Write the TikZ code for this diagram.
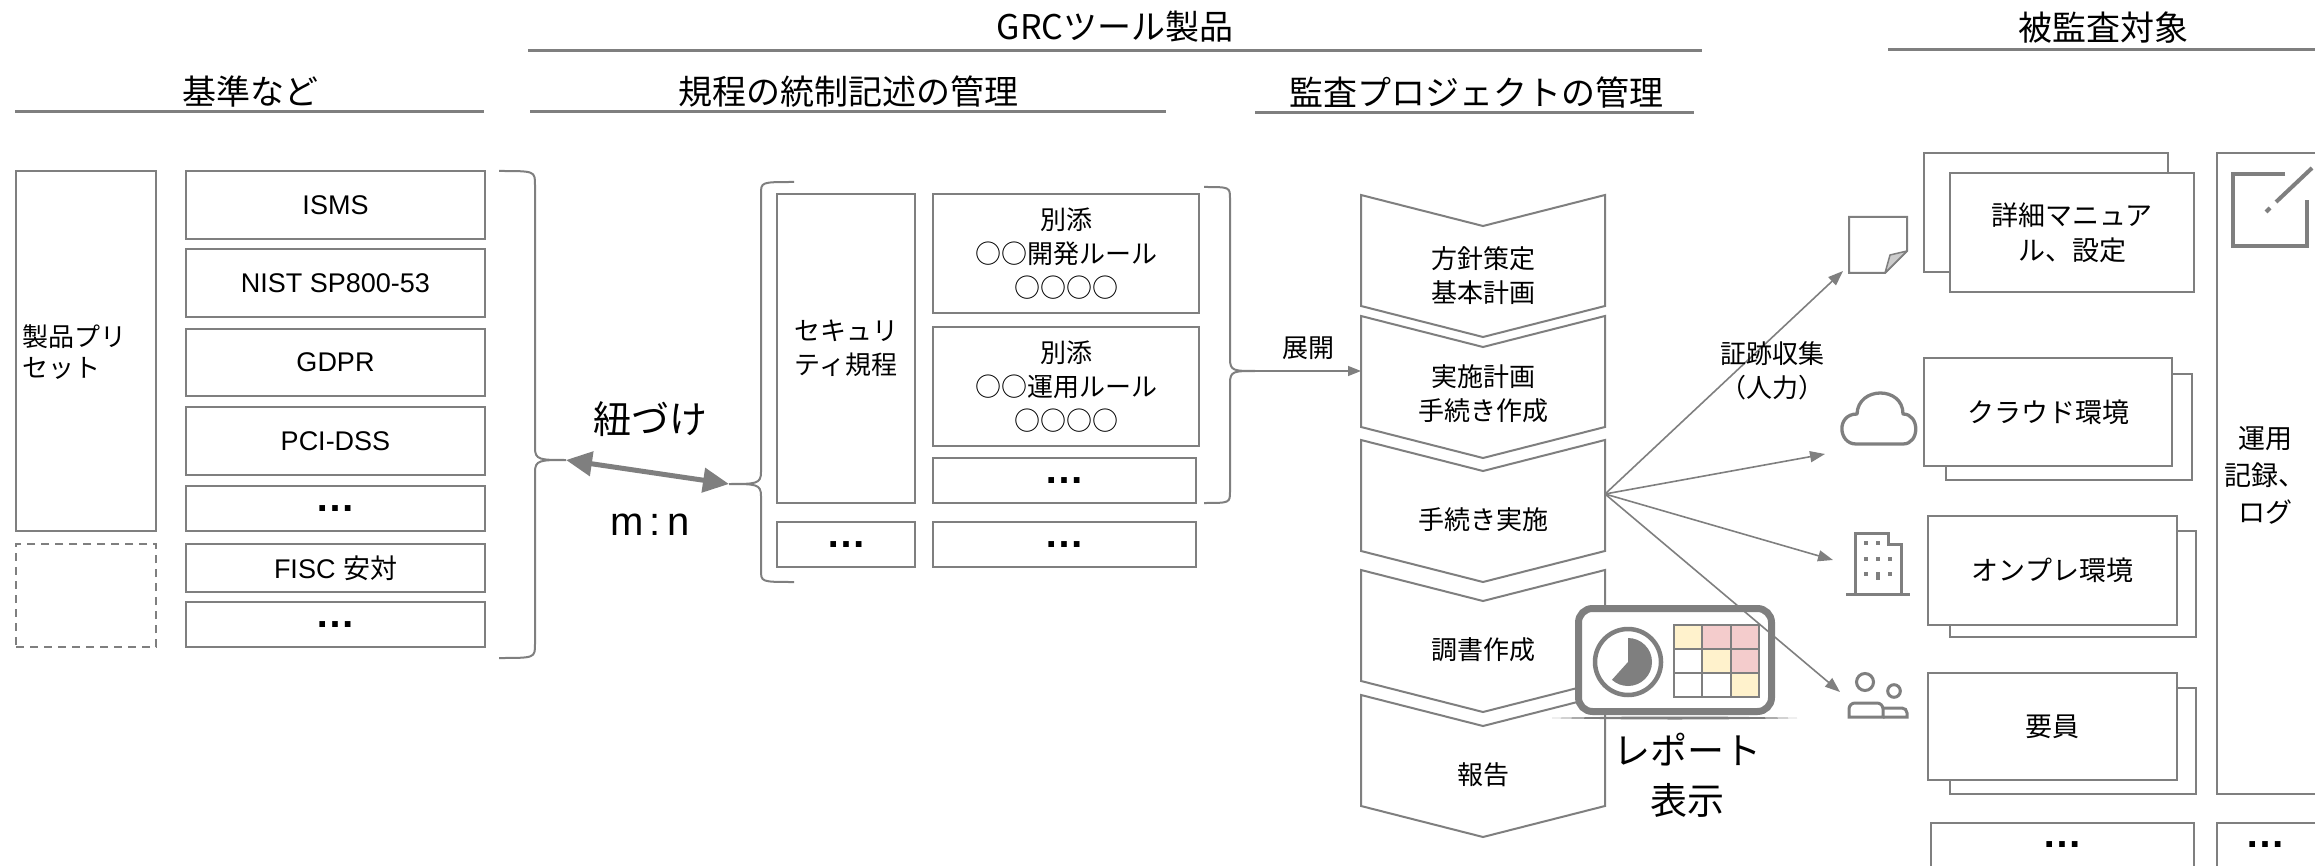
\documentclass[tikz,border=0pt]{standalone}
\usepackage{fontspec}
\setmainfont{Noto Sans CJK JP}
\newfontfamily\lat{Liberation Sans}
\usetikzlibrary{arrows.meta}
\definecolor{lg}{RGB}{127,127,127}
\definecolor{cellY}{HTML}{FFF2CC}
\definecolor{cellP}{HTML}{F4CCCC}
\newcommand{\fsz}[2]{\fontsize{#1}{#2}\selectfont}
% box from corner (x1,y1) to corner (x2,y2), named
\newcommand{\bx}[6][]{\node[box,#1,minimum width={(#4)-(#2)},minimum height={(#5)-(#3)}] (#6) at ({((#2)+(#4))/2},{((#3)+(#5))/2})}
% down-pointing chevron step whose top corners sit at height #1
\newcommand{\chevstep}[1]{\draw[chev] (1361,#1) -- (1483,#1+31) -- (1605,#1) -- (1605,#1+111) -- (1483,#1+142) -- (1361,#1+111) -- cycle;}
\tikzset{
  box/.style={draw=lg, line width=2pt, fill=white, inner sep=0pt, align=center, font=\fsz{26}{34}},
  latbox/.style={box, font=\lat\fsz{27}{32}},
  dotbox/.style={box, font=\lat\bfseries\fsz{40}{44}},
  ttl/.style={font=\fsz{34}{40}, inner sep=0pt},
  uline/.style={draw=lg, line width=3pt},
  brc/.style={draw=lg, line width=2pt},
  chev/.style={draw=lg, line width=2pt, fill=white, line join=miter},
  lbl/.style={font=\fsz{26}{34}, inner sep=0pt, align=center},
  evd/.style={draw=lg, line width=1.6pt, -{Triangle[length=15pt,width=11pt]}},
  dbl/.style={draw=lg, line width=5pt, {Triangle[length=26pt,width=24pt]}-{Triangle[length=26pt,width=24pt]}},
  icon/.style={draw=lg, line width=3pt, line join=miter},
}
\begin{document}
\begin{tikzpicture}[x=1pt,y=-1pt]
\useasboundingbox (0,0) rectangle (2315,866);

% ---------- headings ----------
\node[ttl] (hGRC) at (1115,27) {GRCツール製品};
\node[ttl] (hTarget) at (2103,28) {被監査対象};
\node[ttl] (hStd) at (250,92) {基準など};
\node[ttl] (hReg) at (848,92) {規程の統制記述の管理};
\node[ttl] (hAudit) at (1476,93) {監査プロジェクトの管理};
\draw[uline] (528,51) -- (1702,51);
\draw[uline] (1888,50) -- (2330,50);
\draw[uline] (15,112) -- (484,112);
\draw[uline] (530,112) -- (1166,112);
\draw[uline] (1255,113) -- (1694,113);

% ---------- standards ----------
\bx{16}{171}{156}{531}{preset}{};
\node[lbl, font=\fsz{26}{31}, anchor=west, align=left] (presetlbl) at (22,352) {製品プリ\\セット};
\bx[dash pattern=on 8pt off 6pt]{16}{544}{156}{647}{presetnew}{};
\bx[latbox]{186}{171}{485}{239}{isms}{ISMS};
\bx[latbox]{186}{249}{485}{317}{nist}{NIST SP800-53};
\bx[latbox]{186}{329}{485}{396}{gdpr}{GDPR};
\bx[latbox]{186}{407}{485}{475}{pci}{PCI-DSS};
\bx[dotbox]{186}{486}{485}{531}{stdA}{…};
\bx[latbox]{186}{544}{485}{592}{fisc}{FISC {\rmfamily 安対}};
\bx[dotbox]{186}{602}{485}{647}{stdB}{…};

% brace around the standards
\draw[brc] (499,171) .. controls (535,171) and (535,171) .. (535,185) -- (535,448)
  .. controls (535,460) and (540,460) .. (566,460) coordinate (b1)
  .. controls (540,460) and (535,460) .. (535,472) -- (535,644)
  .. controls (535,658) and (535,658) .. (499,658);

% ---------- regulations ----------
\bx{777}{194}{915}{503}{secreg}{セキュリ\\ティ規程};
\bx{933}{194}{1199}{313}{annexA}{別添\\○○開発ルール\\○○○○};
\bx{933}{327}{1199}{446}{annexB}{別添\\○○運用ルール\\○○○○};
\bx[dotbox]{933}{458}{1196}{503}{regA}{…};
\bx[dotbox]{777}{522}{915}{567}{regB}{…};
\bx[dotbox]{933}{522}{1196}{567}{regC}{…};

% left brace around the regulations
\draw[brc] (794,182) .. controls (761,182) and (761,182) .. (761,194) -- (761,472)
  .. controls (761,484) and (756,484) .. (729,484) coordinate (b2)
  .. controls (756,484) and (761,484) .. (761,496) -- (761,570)
  .. controls (761,582) and (761,582) .. (794,582);
% right brace around the annexes
\draw[brc] (1204,187) .. controls (1230,187) and (1230,187) .. (1230,199) -- (1230,359)
  .. controls (1230,371) and (1234,371) .. (1255,371) coordinate (b3)
  .. controls (1234,371) and (1230,371) .. (1230,383) -- (1230,491)
  .. controls (1230,503) and (1230,503) .. (1204,503);

% many-to-many link
\draw[dbl] (b1) -- (b2);
\node[font=\fsz{38}{44}, inner sep=0pt] (link) at (650,419) {紐づけ};
\node[font=\lat\fsz{40}{44}, inner sep=0pt] (mn) at (650,525) {m\,:\,n};

% ---------- audit project steps ----------
\chevstep{195}
\chevstep{316}
\chevstep{440}
\chevstep{570}
\chevstep{695}
\node[lbl] (s1) at (1483,276) {方針策定\\基本計画};
\node[lbl] (s2) at (1483,394) {実施計画\\手続き作成};
\node[lbl] (s3) at (1483,520) {手続き実施};
\node[lbl] (s4) at (1483,650) {調書作成};
\node[lbl] (s5) at (1483,775) {報告};
\coordinate (c2w) at (1361,371);
\coordinate (src) at (1605,494);

\draw[draw=lg, line width=1.4pt, -{Triangle[length=13pt,width=10pt]}] (b3) -- (c2w);
\node[lbl] (deploy) at (1308,348) {展開};

% report display
\fill[lg] (1552,718) .. controls (1620,716) and (1730,716) .. (1797,718)
  .. controls (1730,720) and (1620,720) .. (1552,718) -- cycle;
\node[draw=lg, line width=7pt, fill=white, rounded corners=14pt, minimum width=193pt,
  minimum height=103pt, inner sep=0pt] (report) at (1675,660) {};
\draw[lg, line width=4.5pt] (1628,662) circle[radius=33];
\fill[lg] (1628,662) -- ++(-90:24) arc[start angle=-90, end angle=132, radius=24] -- cycle;
\fill[cellY] (1674,625) rectangle (1702.3,649);
\fill[cellP] (1702.3,625) rectangle (1759,649);
\fill[cellY] (1702.3,649) rectangle (1730.7,673);
\fill[cellP] (1730.7,649) rectangle (1759,673);
\fill[cellY] (1730.7,673) rectangle (1759,697);
\foreach \gx in {1674,1702.3,1730.7,1759} \draw[lg, line width=2pt] (\gx,625) -- (\gx,697);
\foreach \gy in {625,649,673,697} \draw[lg, line width=2pt] (1673,\gy) -- (1760,\gy);
\node[font=\fsz{37}{50}, inner sep=0pt, align=center] (reportlbl) at (1687,775) {レポート\\表示};

% ---------- audit targets ----------
% document
\draw[icon, line width=2pt, fill=white] (1849,217) -- (1907,217) -- (1907,251) -- (1885,273) -- (1849,273) -- cycle;
\filldraw[draw=lg, fill=lg!40, line width=1.5pt, line join=round] (1907,251) -- (1885,273) -- (1890,255) -- cycle;
% cloud
\draw[icon, line width=3.3pt, line join=round] (1856,444) .. controls (1838,444) and (1836,414) .. (1857,414)
  .. controls (1858,386) and (1903,386) .. (1903,414)
  .. controls (1920,414) and (1920,444) .. (1903,444) -- cycle;
% building
\draw[icon] (1855,593) -- (1855,533) -- (1888,533) -- (1888,544) -- (1901,544) -- (1901,593);
\draw[icon] (1846,594) -- (1910,594);
\foreach \wx/\wy in {1866/543,1878/543,1866/559,1878/559,1890/559,1866/574,1890/574}
  \fill[lg] (\wx-1.8,\wy-1.6) rectangle (\wx+1.8,\wy+1.6);
\fill[lg] (1876.2,571.5) rectangle (1879.8,580);
% people
\draw[icon] (1865,682) circle[radius=8.5];
\draw[icon] (1849,717) -- (1849,709) arc[start angle=180, end angle=270, radius=6] -- (1877,703) arc[start angle=270, end angle=360, radius=6] -- (1883,717) -- cycle;
\draw[icon] (1894,691) circle[radius=6.3];
\draw[icon] (1883,708) -- (1902,708) arc[start angle=270, end angle=360, radius=5] -- (1907,717) -- (1883,717);

% target boxes (back sheet, then front sheet)
\bx{1924}{153}{2168}{272}{manualB}{};
\bx[font=\fsz{27}{35}]{1950}{173}{2194}{292}{manual}{詳細マニュア\\ル、設定};
\bx{1946}{374}{2192}{480}{cloudB}{};
\bx[font=\fsz{27}{35}]{1924}{358}{2172}{466}{cloud}{クラウド環境};
\bx{1950}{531}{2196}{637}{onpremB}{};
\bx[font=\fsz{27}{35}]{1928}{516}{2177}{625}{onprem}{オンプレ環境};
\bx{1950}{688}{2196}{794}{staffB}{};
\bx[font=\fsz{27}{35}]{1928}{673}{2177}{780}{staff}{要員};
\bx{1931}{823}{2194}{900}{tgtMore}{};
\node[font=\lat\bfseries\fsz{40}{44}, inner sep=0pt] (tgtMoreLbl) at (2062,845) {…};
\bx{2217}{153}{2345}{794}{oplog}{};
\node[font=\fsz{27}{37}, inner sep=0pt, align=center] (oploglbl) at (2265,475) {運用\\記録、\\ログ};
\bx{2217}{823}{2345}{900}{logMore}{};
\node[font=\lat\bfseries\fsz{40}{44}, inner sep=0pt] (logMoreLbl) at (2265,845) {…};
% edit mark
\draw[icon, line width=4.5pt] (2285,174) -- (2233,174) -- (2233,246) -- (2307,246) -- (2307,200);
\draw[icon, line width=4pt] (2312,168) -- (2276,202);
\draw[icon, line width=4pt] (2266,212) -- (2270,208);

% evidence collection
\coordinate (tDoc) at (1843,271);
\coordinate (tCloud) at (1825,454);
\coordinate (tBldg) at (1833,560);
\coordinate (tStaff) at (1840,692);
\draw[evd] (src) -- (tDoc);
\draw[evd] (src) -- (tCloud);
\draw[evd] (src) -- (tBldg);
\draw[evd] (src) -- (tStaff);
\node[lbl] (evidence) at (1772,371) {証跡収集\\（人力）};
\end{tikzpicture}
\end{document}
